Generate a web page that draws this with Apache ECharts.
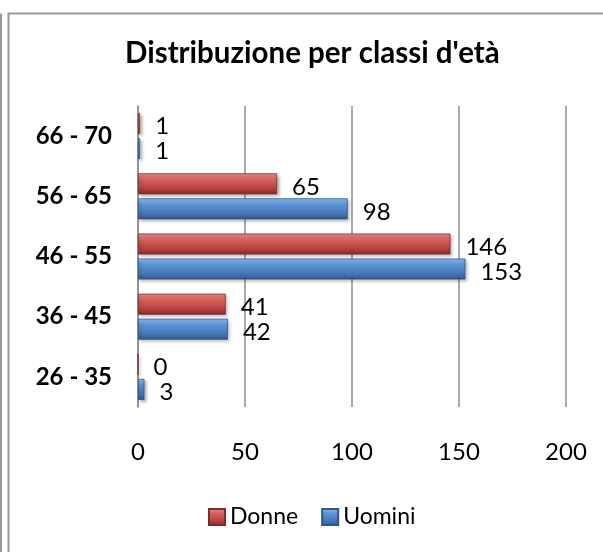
<!DOCTYPE html>
<html>
<head>
<meta charset="utf-8">
<script src="https://cdn.jsdelivr.net/npm/echarts@6/dist/echarts.min.js"></script>
<style>html,body{margin:0;padding:0;background:#fff;}#c{width:603px;height:552px;}</style>
</head>
<body>
<div id="c"></div>
<script>
const categories = ['26 - 35', '36 - 45', '46 - 55', '56 - 65', '66 - 70'];
const donne = [0, 41, 146, 65, 1];
const uomini = [3, 42, 153, 98, 1];
const xTicks = { min: 0, max: 200, interval: 50 };
const titleText = "Distribuzione per classi d'età";

const FONT = 'Lato';
const chart = echarts.init(document.getElementById('c'), null, { renderer: 'canvas' });

function grad(c1, c2, c3, c4) {
  return new echarts.graphic.LinearGradient(0, 0, 0, 1, [
    { offset: 0, color: c1 },
    { offset: 0.3, color: c2 },
    { offset: 0.75, color: c3 },
    { offset: 1, color: c4 }
  ]);
}

const labelCfg = {
  show: true, position: 'right', distance: 15, offset: [0, 3],
  color: '#000', fontFamily: FONT, fontSize: 24
};

chart.setOption({
  animation: false,
  backgroundColor: '#fff',
  title: {
    text: titleText, left: 125, top: 38, padding: 0,
    textStyle: { fontFamily: FONT, fontWeight: 'bold', fontSize: 29.5, color: '#000' }
  },
  legend: {
    data: ['Donne', 'Uomini'],
    left: 208, top: 505, padding: 0,
    icon: 'rect', itemWidth: 16, itemHeight: 16, itemGap: 23,
    textStyle: { fontFamily: FONT, fontSize: 23, color: '#000', lineHeight: 24 }
  },
  grid: { left: 138, right: 37, top: 106, bottom: 145, containLabel: false },
  xAxis: {
    type: 'value', min: xTicks.min, max: xTicks.max, interval: xTicks.interval,
    axisLine: { show: false }, axisTick: { show: false },
    splitLine: { show: true, lineStyle: { color: '#8c8c8c', width: 1.5 } },
    axisLabel: { color: '#000', fontFamily: FONT, fontSize: 24, margin: 33 }
  },
  yAxis: {
    type: 'category', data: categories,
    axisLine: { show: true, lineStyle: { color: '#8c8c8c', width: 1.5 } },
    axisTick: { show: false },
    axisLabel: { color: '#000', fontFamily: FONT, fontSize: 24, fontWeight: 'bold', margin: 26 }
  },
  series: [
    {
      name: 'Donne', type: 'bar', data: donne, barWidth: 21, barGap: '19%',
      itemStyle: {
        color: grad('#f3918d', '#d65f5b', '#b4403d', '#7f2b29'),
        borderColor: '#7f2b29', borderWidth: 0.8,
        shadowBlur: 3, shadowOffsetX: 2, shadowOffsetY: 2, shadowColor: 'rgba(0,0,0,0.3)'
      },
      label: labelCfg
    },
    {
      name: 'Uomini', type: 'bar', data: uomini, barWidth: 21, barGap: '19%',
      itemStyle: {
        color: grad('#93c2f5', '#5b93d8', '#4674b0', '#2f5587'),
        borderColor: '#2f5587', borderWidth: 0.8,
        shadowBlur: 3, shadowOffsetX: 2, shadowOffsetY: 2, shadowColor: 'rgba(0,0,0,0.3)'
      },
      label: labelCfg
    }
  ],
  graphic: [
    { type: 'line', shape: { x1: 1, y1: 13.5, x2: 1, y2: 552 }, style: { stroke: '#999', lineWidth: 2 }, silent: true },
    { type: 'line', shape: { x1: 8.5, y1: 13.5, x2: 8.5, y2: 552 }, style: { stroke: '#999', lineWidth: 2 }, silent: true },
    { type: 'line', shape: { x1: 7.5, y1: 13.5, x2: 603, y2: 13.5 }, style: { stroke: '#999', lineWidth: 2 }, silent: true }
  ]
});
</script>
</body>
</html>
